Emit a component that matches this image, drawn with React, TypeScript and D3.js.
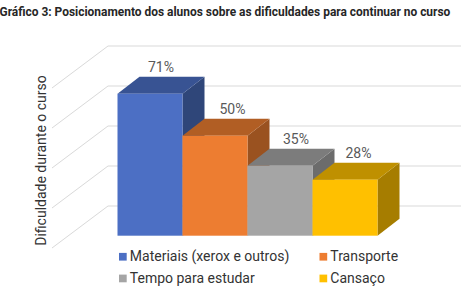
import React from "react";
import * as d3 from "d3";

const title = "Gráfico 3: Posicionamento dos alunos sobre as dificuldades para continuar no curso";
const yTitle = "Dificuldade durante o curso";
const categories = ["Materiais (xerox e outros)", "Transporte", "Tempo para estudar", "Cansaço"];
const values = [71, 50, 35, 28];
const gridTicks = [0, 20, 40, 60, 80];
const frontColors = ["#4c6fc4", "#ed7d31", "#a5a5a5", "#ffc000"];
const topColors = ["#385393", "#b15e24", "#7c7c7c", "#bf9000"];
const sideColors = ["#2f4679", "#9a5220", "#6c6c6c", "#a67d00"];

const width = 461;
const height = 300;
const depthX = 22;
const depthY = -17;

const y = d3.scaleLinear().domain([0, 80]).range([235.7, 75.7]);
const x = d3.scaleBand().domain(categories).range([117.5, 377.5]);
const line = d3.line();

const fontFamily = "Roboto, sans-serif";
// hand placed in the original, labels don't sit exactly over the bars
const labelNudge = [0, 6.5, 5, 2.4];

export default function App() {
  return (
    <svg
      width={width}
      height={height}
      viewBox={`0 0 ${width} ${height}`}
      style={{ position: "absolute", left: 0, top: 0, background: "#fff" }}
    >
      <text x={-0.5} y={16} fontFamily={fontFamily} fontWeight={700} fontSize={11.95} fill="#262626">
        {title}
      </text>

      {/* back wall + left wall grid */}
      {gridTicks.map(t => {
        const back = y(t) - 29.7;
        return (
          <path
            key={t}
            d={line([[52, back + 42], [108, back], [461, back]]) as string}
            fill="none"
            stroke="#d9d9d9"
            strokeWidth={1}
          />
        );
      })}

      <text
        transform="translate(46,160.5) rotate(-90)"
        textAnchor="middle"
        fontFamily={fontFamily}
        fontSize={14}
        fill="#333"
      >
        {yTitle}
      </text>

      {/* left to right, each bar's top covers the previous bar's side */}
      {categories.map((c, i) => {
        const x0 = x(c) as number;
        const x1 = x0 + x.bandwidth();
        const yTop = y(values[i]);
        const yBase = y(0);
        return (
          <g key={c}>
            <path
              d={line([[x1, yTop], [x1 + depthX, yTop + depthY], [x1 + depthX, yBase + depthY], [x1, yBase]]) + "Z"}
              fill={sideColors[i]}
            />
            <path
              d={line([[x0, yTop], [x1, yTop], [x1 + depthX, yTop + depthY], [x0 + depthX, yTop + depthY]]) + "Z"}
              fill={topColors[i]}
            />
            <rect x={x0} y={yTop} width={x.bandwidth()} height={yBase - yTop} fill={frontColors[i]} />
          </g>
        );
      })}

      {values.map((v, i) => (
        <text
          key={i}
          x={(x(categories[i]) as number) + x.bandwidth() / 2 + depthX / 2 + labelNudge[i]}
          y={y(v) + depthY - 5}
          textAnchor="middle"
          fontFamily={fontFamily}
          fontSize={14}
          fill="#595959"
        >
          {v}%
        </text>
      ))}

      {categories.map((c, i) => {
        const col = i % 2;
        const row = Math.floor(i / 2);
        const lx = col === 0 ? 119 : 319.5;
        const ly = row === 0 ? 256.8 : 278.5;
        return (
          <g key={c}>
            <rect x={lx} y={ly - 3.9} width={7.7} height={7.7} fill={frontColors[i]} />
            <text x={lx + 10.8} y={ly + 4.3} fontFamily={fontFamily} fontSize={14} fill="#333">
              {c}
            </text>
          </g>
        );
      })}
    </svg>
  );
}
